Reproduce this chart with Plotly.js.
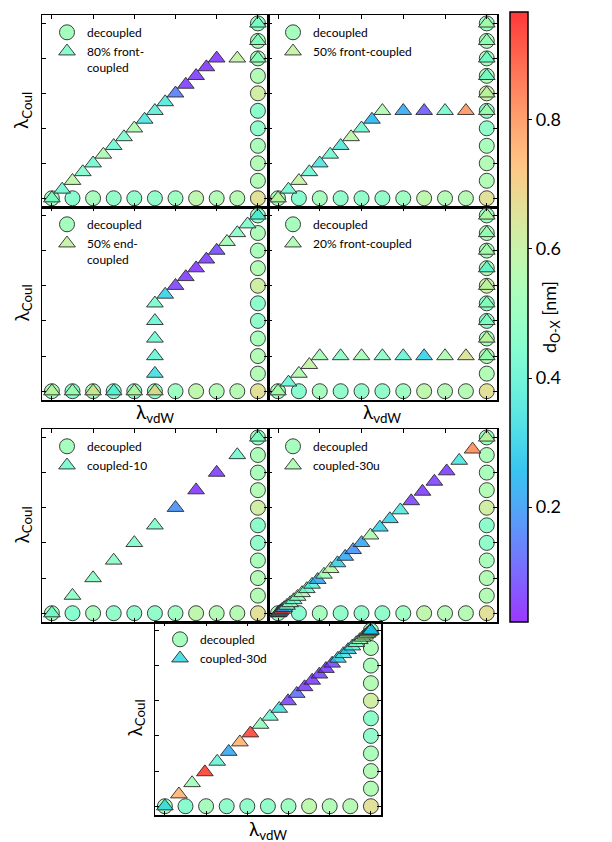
<!DOCTYPE html>
<html><head><meta charset="utf-8">
<script src="https://cdn.plot.ly/plotly-3.0.1.min.js"></script>
<style>body{margin:0;padding:0;background:#fff}#chart{width:612px;height:842px}</style>
</head><body><div id="chart"></div>
<script>
// ---------- data ----------
const decX = [0,0.1,0.2,0.3,0.4,0.5,0.6,0.7,0.8,0.9,1.0,1,1,1,1,1,1,1,1,1,1];
const decY = [0,0,0,0,0,0,0,0,0,0,0,0.1,0.2,0.3,0.4,0.5,0.6,0.7,0.8,0.9,1.0];
const decC = [0.52,0.45,0.52,0.47,0.47,0.47,0.5,0.58,0.55,0.56,0.66,0.55,0.55,0.53,0.47,0.46,0.62,0.55,0.53,0.54,0.5];

const p1Name = "80% front-<br>coupled";
const p1X = [0,0.05,0.1,0.15,0.2,0.25,0.3,0.35,0.4,0.45,0.5,0.55,0.6,0.65,0.7,0.75,0.8,0.9,1.0,1.0,1.0];
const p1Y = [0,0.05,0.1,0.15,0.2,0.25,0.3,0.35,0.4,0.45,0.5,0.55,0.6,0.65,0.7,0.75,0.8,0.8,0.8,0.9,1.0];
const p1C = [0.45,0.42,0.58,0.45,0.42,0.55,0.42,0.44,0.55,0.35,0.38,0.36,0.15,0.06,0.06,0.05,0.05,0.6,0.48,0.47,0.45];

const p2Name = "50% front-coupled";
const p2X = [0,0.05,0.1,0.15,0.2,0.25,0.3,0.35,0.4,0.45,0.5,0.6,0.7,0.8,0.9,1.0,1,1,1,1,1];
const p2Y = [0,0.05,0.1,0.15,0.2,0.25,0.3,0.35,0.4,0.45,0.5,0.5,0.5,0.5,0.5,0.5,0.6,0.7,0.8,0.9,1.0];
const p2C = [0.6,0.42,0.6,0.42,0.35,0.42,0.36,0.58,0.42,0.25,0.55,0.22,0.1,0.43,0.8,0.55,0.58,0.43,0.43,0.5,0.55];

const p3Name = "50% end-<br>coupled";
const p3X = [0,0.1,0.2,0.3,0.4,0.5,0.5,0.5,0.5,0.5,0.5,0.55,0.6,0.65,0.7,0.75,0.8,0.85,0.9,0.95,1.0];
const p3Y = [0,0,0,0,0,0,0.1,0.2,0.3,0.4,0.5,0.55,0.6,0.65,0.7,0.75,0.8,0.85,0.9,0.95,1.0];
const p3C = [0.6,0.55,0.65,0.38,0.6,0.68,0.33,0.4,0.42,0.4,0.44,0.3,0.07,0.06,0.05,0.06,0.08,0.53,0.47,0.45,0.36];

const p4Name = "20% front-coupled";
const p4X = [0,0.05,0.1,0.15,0.2,0.3,0.4,0.5,0.6,0.7,0.8,0.9,1.0,1,1,1,1,1,1,1,1];
const p4Y = [0,0.05,0.1,0.15,0.2,0.2,0.2,0.2,0.2,0.2,0.2,0.2,0.2,0.3,0.4,0.5,0.6,0.7,0.8,0.9,1.0];
const p4C = [0.55,0.4,0.55,0.6,0.53,0.47,0.53,0.47,0.4,0.3,0.55,0.65,0.52,0.6,0.47,0.5,0.58,0.4,0.55,0.52,0.58];

const p5Name = "coupled-10";
const p5X = [0,0.1,0.2,0.3,0.4,0.5,0.6,0.7,0.8,0.9,1.0];
const p5Y = [0,0.1,0.2,0.3,0.4,0.5,0.6,0.7,0.8,0.9,1.0];
const p5C = [0.43,0.48,0.47,0.47,0.45,0.45,0.18,0.05,0.06,0.42,0.46];

const p6Name = "coupled-30u";
const p6X = [0,0.002,0.006,0.012,0.02,0.03,0.043,0.058,0.075,0.094,0.115,0.138,0.163,0.19,0.22,0.252,0.285,0.322,0.36,0.4,0.443,0.488,0.536,0.586,0.638,0.692,0.749,0.808,0.868,0.932,1.0];
const p6Y = [0,0.002,0.006,0.012,0.02,0.03,0.043,0.058,0.075,0.094,0.115,0.138,0.163,0.19,0.22,0.252,0.285,0.322,0.36,0.4,0.443,0.488,0.536,0.586,0.638,0.692,0.749,0.808,0.868,0.932,1.0];
const p6C = [0.55,0.25,0.75,0.22,0.93,0.22,0.45,0.5,0.42,0.5,0.55,0.42,0.38,0.22,0.52,0.58,0.3,0.22,0.18,0.22,0.55,0.3,0.3,0.36,0.07,0.06,0.07,0.06,0.35,0.82,0.6];

const p7Name = "coupled-30d";
const p7X = [0,0.068,0.132,0.194,0.254,0.31,0.364,0.415,0.464,0.51,0.555,0.598,0.64,0.678,0.715,0.75,0.782,0.812,0.84,0.866,0.889,0.91,0.929,0.946,0.96,0.972,0.982,0.99,0.996,0.999,1.0];
const p7Y = [0,0.068,0.132,0.194,0.254,0.31,0.364,0.415,0.464,0.51,0.555,0.598,0.64,0.678,0.715,0.75,0.782,0.812,0.84,0.866,0.889,0.91,0.929,0.946,0.96,0.972,0.982,0.99,0.996,0.999,1.0];
const p7C = [0.32,0.75,0.52,0.93,0.4,0.22,0.75,0.92,0.5,0.42,0.33,0.07,0.13,0.06,0.06,0.07,0.06,0.08,0.3,0.35,0.28,0.4,0.45,0.55,0.52,0.6,0.55,0.58,0.5,0.45,0.25];

const tickVals = [0,0.2,0.4,0.6,0.8,1.0];
const cbTicks = [0.2,0.4,0.6,0.8];
const C_MIN = 0.022, C_MAX = 0.967;

// ---------- style ----------
const W = 612, H = 842;
const FONT = "Lato, 'DejaVu Sans', sans-serif";
// matplotlib 'rainbow' colormap, drawn semi-transparent
const rainbow = [];
for (let i = 0; i <= 20; i++) {
  const t = i / 20;
  const r = Math.min(1, Math.abs(2*t - 0.5));
  const g = Math.sin(Math.PI * t);
  const b = Math.cos(Math.PI * t / 2);
  rainbow.push([t, `rgba(${Math.round(r*255)},${Math.round(g*255)},${Math.round(b*255)},0.78)`]);
}

const panels = [
  {name: p1Name, x: p1X, y: p1Y, c: p1C, dom: [42,268,15,207], ytitle: true},
  {name: p2Name, x: p2X, y: p2Y, c: p2C, dom: [268,497,15,207], ytitle: false},
  {name: p3Name, x: p3X, y: p3Y, c: p3C, dom: [42,268,207,400], ytitle: true},
  {name: p4Name, x: p4X, y: p4Y, c: p4C, dom: [268,497,207,400], ytitle: false},
  {name: p5Name, x: p5X, y: p5Y, c: p5C, dom: [42,268,429,622], ytitle: true},
  {name: p6Name, x: p6X, y: p6Y, c: p6C, dom: [268,497,429,622], ytitle: false},
  {name: p7Name, x: p7X, y: p7Y, c: p7C, dom: [155,381,622,815], ytitle: true},
];

const colorbar = {
  x: 510/W, xanchor: 'left', xpad: 0, ypad: 0,
  y: 1 - 12/H, yanchor: 'top', len: 610/H, lenmode: 'fraction',
  thickness: 18, thicknessmode: 'pixels',
  outlinewidth: 1.5, outlinecolor: 'black',
  ticks: 'outside', ticklen: 4, tickcolor: 'black',
  tickvals: cbTicks, ticktext: cbTicks.map(v => v.toFixed(1)),
  tickfont: {family: FONT, size: 18},
  title: {text: 'd<sub>O-X</sub> [nm]', side: 'right', font: {family: FONT, size: 18}}
};

const traces = [];
const layout = {
  width: W, height: H,
  margin: {l:0, r:0, t:0, b:0},
  paper_bgcolor: 'white', plot_bgcolor: 'rgba(0,0,0,0)',
  font: {family: FONT, color: 'black'},
  annotations: [],
  showlegend: true
};

function mk(symbol, size, colors, showscale) {
  return {symbol: symbol, size: size, color: colors, colorscale: rainbow,
          cmin: C_MIN, cmax: C_MAX, showscale: showscale, colorbar: colorbar,
          line: {color: '#2a2a2a', width: 0.9}};
}

panels.forEach((p, i) => {
  const k = i === 0 ? '' : String(i+1);
  const lg = i === 0 ? 'legend' : 'legend' + (i+1);
  const [x0,x1,y0,y1] = p.dom;
  const common = {
    type: 'scatter', mode: 'markers', cliponaxis: false,
    xaxis: 'x' + k, yaxis: 'y' + k, legend: lg, hoverinfo: 'skip'
  };
  traces.push(Object.assign({}, common, {
    name: 'decoupled', x: decX, y: decY,
    marker: mk('circle', 15, decC, i === 0)
  }));
  traces.push(Object.assign({}, common, {
    name: p.name, x: p.x, y: p.y,
    marker: mk('triangle-up', 14.5, p.c, false)
  }));
  const base = {
    showline: true, linecolor: 'black', linewidth: 1.5, mirror: 'allticks',
    ticks: 'inside', ticklen: 4, tickcolor: 'black', tickwidth: 1,
    tickvals: tickVals, showticklabels: false, showgrid: false, zeroline: false
  };
  layout['xaxis' + k] = Object.assign({}, base, {
    domain: [x0/W, x1/W], range: [-0.048, 1.049], anchor: 'y' + k});
  layout['yaxis' + k] = Object.assign({}, base, {
    domain: [1 - y1/H, 1 - y0/H], range: [-0.05, 1.048], anchor: 'x' + k});
  layout[lg] = {
    x: (x0 + 5)/W, xanchor: 'left', y: 1 - (y0 + 3)/H, yanchor: 'top',
    bgcolor: 'rgba(0,0,0,0)', borderwidth: 0, valign: 'top',
    font: {family: FONT, size: 12, color: 'black'}
  };
  if (p.ytitle) {
    layout.annotations.push({
      xref: 'paper', yref: 'paper', x: (x0 - 20)/W, y: 1 - ((y0 + y1)/2)/H,
      text: 'λ<sub>Coul</sub>', textangle: -90, showarrow: false,
      font: {family: FONT, size: 19}, xanchor: 'center', yanchor: 'middle'
    });
  }
});

// x-axis titles (bottom panels only)
[[155, 413], [382, 413], [268, 830]].forEach(([cx, cy]) => {
  layout.annotations.push({
    xref: 'paper', yref: 'paper', x: cx/W, y: 1 - cy/H,
    text: 'λ<sub>vdW</sub>', showarrow: false,
    font: {family: FONT, size: 19}, xanchor: 'center', yanchor: 'middle'
  });
});

Plotly.newPlot('chart', traces, layout, {displayModeBar: false, staticPlot: true});
</script>
</body></html>
